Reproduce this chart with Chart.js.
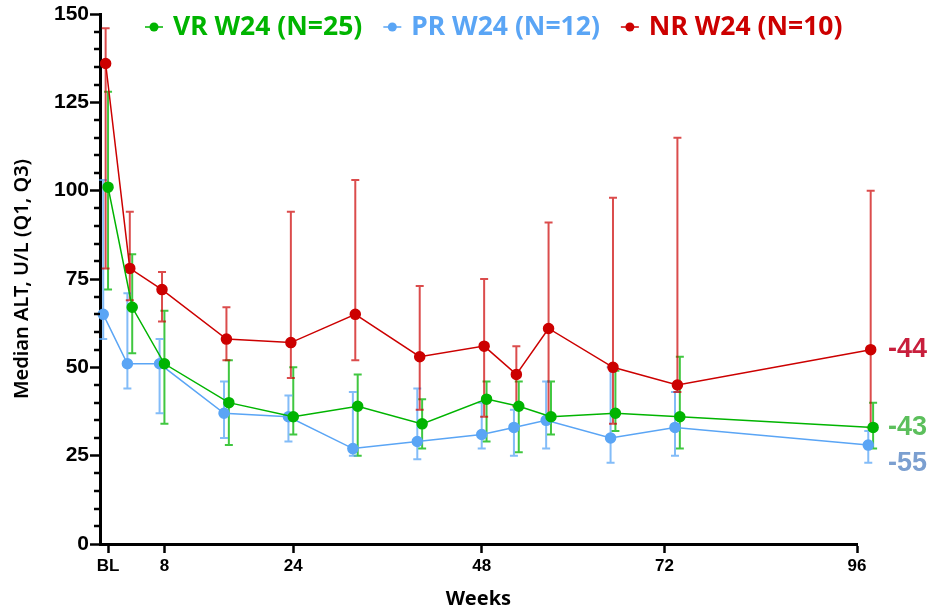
<!DOCTYPE html>
<html>
<head>
<meta charset="utf-8">
<script src="https://cdn.jsdelivr.net/npm/chart.js@4.4.1/dist/chart.umd.min.js"></script>
<style>
html,body{margin:0;padding:0;background:#fff}
#wrap{width:931px;height:611px;position:relative}
</style>
</head>
<body>
<div id="wrap"><canvas id="altChart"></canvas></div>
<script>
// visit weeks (BL drawn at week 1)
const weeks=[1,4,8,16,24,32,40,48,52,56,64,72,96]
const tickWeeks=[1,8,24,47.4,70.1,94]
const tickLabels=["BL","8","24","48","72","96"]

const vrMed=[101,67,51,40,36,39,34,41,39,36,37,36,33]
const vrQ1=[72,54,34,28,31,25,27,29,26,31,32,27,27]
const vrQ3=[128,82,66,52,50,48,41,46,46,46,49,53,40]

const prMed=[65,51,51,37,36,27,29,31,33,35,30,33,28]
const prQ1=[58,44,37,30,29,25,24,27,25,27,23,25,23]
const prQ3=[103,71,58,46,42,43,44,40,38,46,50,43,32]

const nrMed=[136,78,72,58,57,65,53,56,48,61,50,45,55]
const nrQ1=[78,69,63,52,47,52,38,36,39,36,34,43,33]
const nrQ3=[146,94,77,67,94,103,73,75,56,91,98,115,100]

const seriesNames=["VR W24 (N=25)","PR W24 (N=12)","NR W24 (N=10)"]
const endLabels=["-43","-55","-44"]

const green="#00b400", blue="#5aa5f5", red="#cc0000"

function mk(label,med,q1,q3,color,bar,nudge){
return{
label:label,
data:weeks.map((w,i)=>({x:w+nudge,y:med[i]})),
q1:q1,q3:q3,barColor:bar,
borderColor:color,backgroundColor:color,
pointBackgroundColor:color,pointBorderColor:color,
pointRadius:5,pointHoverRadius:5,borderWidth:1.5,
tension:0,clip:false
}
}

// error bars from Q1/Q3; also lets the week 96 points show past the axis end
let savedRight
const errorBars={
id:"errorBars",
beforeDatasetsDraw(chart){
const ctx=chart.ctx, ys=chart.scales.y
savedRight=chart.chartArea.right
chart.chartArea.right=chart.width
chart.data.datasets.forEach((ds,di)=>{
const meta=chart.getDatasetMeta(di)
ctx.save()
ctx.strokeStyle=ds.barColor
ctx.lineWidth=2
meta.data.forEach((pt,i)=>{
const x=pt.x
const a=ys.getPixelForValue(ds.q1[i]), b=ys.getPixelForValue(ds.q3[i])
ctx.beginPath()
ctx.moveTo(x,a);ctx.lineTo(x,b)
ctx.moveTo(x-4,a);ctx.lineTo(x+4,a)
ctx.moveTo(x-4,b);ctx.lineTo(x+4,b)
ctx.stroke()
})
ctx.restore()
})
},
afterDatasetsDraw(chart){
chart.chartArea.right=savedRight
}
}

const extras={
id:"extras",
afterDraw(chart){
const ctx=chart.ctx, ys=chart.scales.y, left=chart.chartArea.left
ctx.save()
// minor y ticks
ctx.strokeStyle="#000";ctx.lineWidth=2.5
for(let v=5;v<150;v+=5){
if(v%25===0) continue
const y=Math.round(ys.getPixelForValue(v))
ctx.beginPath();ctx.moveTo(left-6,y);ctx.lineTo(left,y);ctx.stroke()
}
// legend
const cols=[green,blue,red]
ctx.font='bold 26.5px "Noto Sans"'
ctx.textBaseline="middle"
let x=145
const ly=27
seriesNames.forEach((n,i)=>{
ctx.strokeStyle=cols[i];ctx.fillStyle=cols[i];ctx.lineWidth=1.5
ctx.beginPath();ctx.moveTo(x,ly);ctx.lineTo(x+18,ly);ctx.stroke()
ctx.beginPath();ctx.arc(x+9,ly,4.5,0,Math.PI*2);ctx.fill()
ctx.fillText(n,x+28,ly)
x+=28+ctx.measureText(n).width+21
})
// end-of-line changes
const meds=[vrMed,prMed,nrMed]
const lcol=["#5cbf5c","#7b9fd0","#c81e3c"]
const dy=[0,18,0]
ctx.font='bold 27px "Liberation Sans"'
endLabels.forEach((t,i)=>{
ctx.fillStyle=lcol[i]
ctx.fillText(t,888,ys.getPixelForValue(meds[i][meds[i].length-1])+dy[i])
})
ctx.restore()
}
}

chart=new Chart(document.getElementById("altChart"),{
type:"line",
data:{datasets:[
mk(seriesNames[0],vrMed,vrQ1,vrQ3,green,"rgba(0,180,0,0.75)",0),
mk(seriesNames[1],prMed,prQ1,prQ3,blue,"rgba(90,165,245,0.75)",-0.6),
mk(seriesNames[2],nrMed,nrQ1,nrQ3,red,"rgba(204,0,0,0.7)",-0.3)
]},
options:{
responsive:true,maintainAspectRatio:false,animation:false,
layout:{padding:{top:14,right:74,left:0,bottom:0}},
plugins:{legend:{display:false},tooltip:{enabled:false}},
scales:{
x:{type:"linear",min:0,max:94,
afterBuildTicks(s){s.ticks=tickWeeks.map(v=>({value:v}))},
ticks:{autoSkip:false,maxRotation:0,color:"#000",padding:3,
font:{family:"Liberation Sans",weight:"bold",size:17},
callback:(v,i)=>tickLabels[i]},
grid:{drawOnChartArea:false,tickLength:9,tickWidth:2.5,tickColor:"#000"},
border:{color:"#000",width:3},
title:{display:true,text:"Weeks",color:"#000",padding:0,
font:{family:"Noto Sans",weight:"bold",size:20}},
afterFit(s){s.height=67}
},
y:{min:0,max:150,
ticks:{stepSize:25,color:"#000",padding:1,
font:{family:"Liberation Sans",weight:"bold",size:21}},
grid:{drawOnChartArea:false,tickLength:10,tickWidth:2.5,tickColor:"#000"},
border:{color:"#000",width:3},
title:{display:true,text:"Median ALT, U/L (Q1, Q3)",color:"#000",padding:{top:10,bottom:0},
font:{family:"Noto Sans",weight:"600",size:20}},
afterFit(s){s.width=100}
}
}
},
plugins:[errorBars,extras]
})
</script>
</body>
</html>
